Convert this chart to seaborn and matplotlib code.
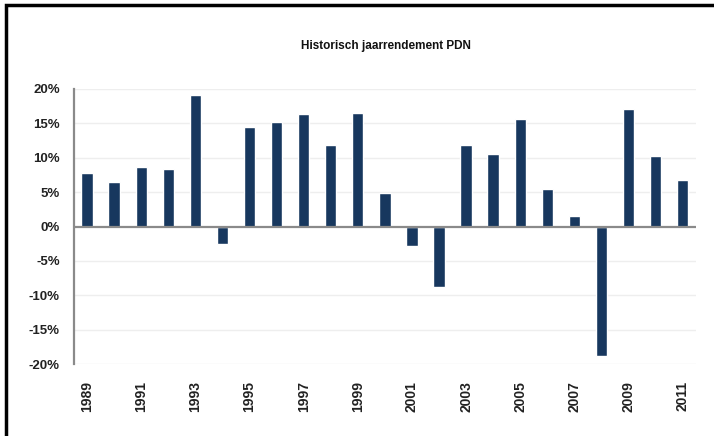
import matplotlib
matplotlib.use('Agg')
import matplotlib.pyplot as plt
from matplotlib.patches import Rectangle
import seaborn as sns
import pandas as pd

years = [str(y) for y in range(1989, 2012)]
rendement = [7.8, 6.4, 8.7, 8.4, 19.1, -2.6, 14.5, 15.2, 16.4, 11.9, 16.5, 4.9,
             -2.9, -8.8, 11.9, 10.6, 15.6, 5.5, 1.5, -18.8, 17.1, 10.3, 6.7]
yticks = [-20, -15, -10, -5, 0, 5, 10, 15, 20]

df = pd.DataFrame({'jaar': years, 'rendement': rendement})

sns.set_style('white')
plt.rcParams['font.family'] = ['Liberation Sans', 'DejaVu Sans']

fig = plt.figure(figsize=(7.14, 4.36), dpi=100)
ax = fig.add_axes([0.103, 0.165, 0.872, 0.631])

# Gridlines eerst, zodat de balken erover liggen
for t in yticks:
    if t != 0:
        ax.axhline(t, color='#eeeeee', lw=1, zorder=0)

sns.barplot(data=df, x='jaar', y='rendement', color='#17375e', saturation=1,
            width=0.42, ax=ax, zorder=2)

ax.axhline(0, color='#8a8a8a', lw=1.6, zorder=3)
ax.set_ylim(-20, 20)
ax.set_xlim(-0.5, len(years) - 0.5)
ax.set_yticks(yticks)
ax.set_yticklabels([f'{t}%' for t in yticks], fontsize=9.5, fontweight='bold', color='#222222')
ax.set_xticks(range(0, len(years), 2))
ax.set_xticklabels(years[::2], rotation=90, fontsize=10, fontweight='bold', color='#222222')
ax.tick_params(axis='y', length=0, pad=10)
ax.tick_params(axis='x', length=0, pad=12)
ax.set_xlabel('')
ax.set_ylabel('')

for s in ['top', 'right', 'bottom']:
    ax.spines[s].set_visible(False)
ax.spines['left'].set_color('#8a8a8a')
ax.spines['left'].set_linewidth(1.6)

fig.text(0.54, 0.895, 'Historisch jaarrendement PDN', ha='center', va='center',
         fontsize=8.5, fontweight='bold', color='#111111')

# zwarte kader links en boven
fig.patches.append(Rectangle((0.008, -0.1), 1.2, 1.088, transform=fig.transFigure,
                             fill=False, edgecolor='black', lw=2.5))

fig.savefig('out.png', dpi=100)
